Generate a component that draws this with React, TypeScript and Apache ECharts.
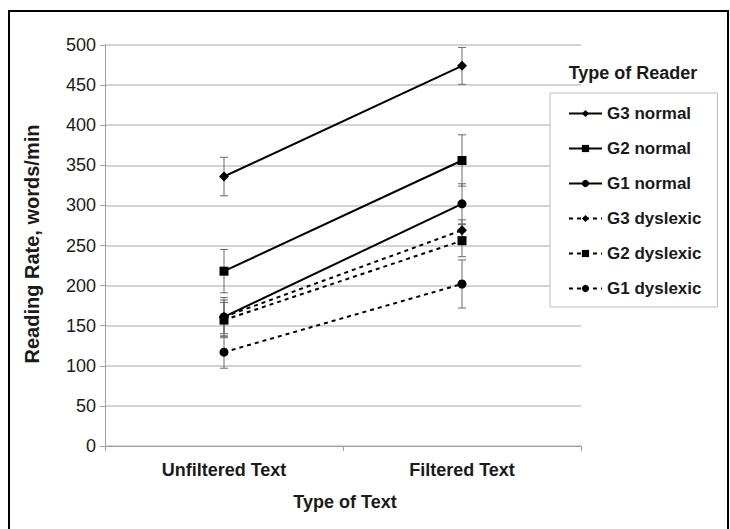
import React, { useEffect, useRef } from "react";
import * as echarts from "echarts";

const categories = ["Unfiltered Text", "Filtered Text"];
const seriesNames = ["G3 normal", "G2 normal", "G1 normal", "G3 dyslexic", "G2 dyslexic", "G1 dyslexic"];
const g3Normal = [336, 474];
const g2Normal = [218, 356];
const g1Normal = [161, 302];
const g3Dyslexic = [161, 269];
const g2Dyslexic = [157, 256];
const g1Dyslexic = [117, 202];
const g3NormalErr = [24, 23];
const g2NormalErr = [27, 32];
const g1NormalErr = [24, 25];
const g3DyslexicErr = [21, 13];
const g2DyslexicErr = [22, 20];
const g1DyslexicErr = [20, 30];
const yTicks = [0, 500, 50];

const FONT = "'Liberation Sans', Arial, sans-serif";
const TXT = "#1a1a1a";

export default function App() {
  const ref = useRef<HTMLDivElement>(null);
  useEffect(() => {
    if (!ref.current) return;
    const chart = echarts.init(ref.current, null, { renderer: "svg" });
    const values = [g3Normal, g2Normal, g1Normal, g3Dyslexic, g2Dyslexic, g1Dyslexic];
    const errs = [g3NormalErr, g2NormalErr, g1NormalErr, g3DyslexicErr, g2DyslexicErr, g1DyslexicErr];
    const symbols = ["diamond", "rect", "circle", "diamond", "rect", "circle"];
    const sizes = [10, 9, 9, 10, 9, 9];

    const errData: number[][] = [];
    values.forEach((vals, s) => {
      vals.forEach((v, i) => errData.push([i, v - errs[s][i], v + errs[s][i]]));
    });

    const errSeries = {
      type: "custom",
      name: "err",
      silent: true,
      z: 1,
      data: errData,
      encode: { x: 0, y: [1, 2] },
      renderItem: (params: any, api: any) => {
        const x = api.value(0);
        const lo = api.coord([x, api.value(1)]);
        const hi = api.coord([x, api.value(2)]);
        const w = 4;
        const st = { stroke: "#6a6a6a", lineWidth: 1 };
        return {
          type: "group",
          children: [
            { type: "line", shape: { x1: lo[0], y1: lo[1], x2: hi[0], y2: hi[1] }, style: st },
            { type: "line", shape: { x1: lo[0] - w, y1: lo[1], x2: lo[0] + w, y2: lo[1] }, style: st },
            { type: "line", shape: { x1: hi[0] - w, y1: hi[1], x2: hi[0] + w, y2: hi[1] }, style: st },
          ],
        };
      },
    };

    const lineSeries = values.map((vals, s) => ({
      type: "line",
      name: seriesNames[s],
      data: vals,
      z: 3,
      symbol: symbols[s],
      symbolSize: sizes[s],
      itemStyle: { color: "#000" },
      lineStyle: { color: "#000", width: 2, type: s < 3 ? "solid" : [4, 4] },
    }));

    chart.setOption({
      animation: false,
      backgroundColor: "#fff",
      grid: { left: 105, top: 45, right: 149, bottom: 83 },
      xAxis: {
        type: "category",
        data: categories,
        boundaryGap: true,
        axisLine: { lineStyle: { color: "#a0a0a0", width: 1 } },
        axisTick: { show: true, length: 5, lineStyle: { color: "#a0a0a0" } },
        axisLabel: { margin: 15, color: TXT, fontFamily: FONT, fontSize: 18, fontWeight: "bold" },
      },
      yAxis: {
        type: "value",
        min: yTicks[0],
        max: yTicks[1],
        interval: yTicks[2],
        axisLine: { show: true, lineStyle: { color: "#a0a0a0", width: 1 } },
        axisTick: { show: true, length: 5, lineStyle: { color: "#a0a0a0" } },
        axisLabel: { margin: 9, color: TXT, fontFamily: FONT, fontSize: 18 },
        splitLine: { lineStyle: { color: "#c4c4c4", width: 1.5 } },
      },
      legend: {
        orient: "vertical",
        left: 550,
        top: 93,
        data: seriesNames,
        itemWidth: 33,
        itemHeight: 9,
        itemGap: 18,
        padding: [12, 16, 10, 18],
        borderColor: "#bdbdbd",
        borderWidth: 1,
        backgroundColor: "#fff",
        textStyle: { color: TXT, fontFamily: FONT, fontSize: 17, fontWeight: "bold" },
      },
      graphic: [
        {
          type: "text",
          x: 633,
          y: 73,
          style: { text: "Type of Reader", fill: TXT, font: `bold 18px ${FONT}`, textAlign: "center", textVerticalAlign: "middle" },
        },
        {
          type: "text",
          x: 345,
          y: 502,
          style: { text: "Type of Text", fill: TXT, font: `bold 18px ${FONT}`, textAlign: "center", textVerticalAlign: "middle" },
        },
        {
          type: "text",
          x: 32,
          y: 244,
          rotation: Math.PI / 2,
          style: { text: "Reading Rate, words/min", fill: TXT, font: `bold 20px ${FONT}`, textAlign: "center", textVerticalAlign: "middle" },
        },
        {
          type: "rect",
          shape: { x: 9, y: 11, width: 719, height: 540 },
          style: { fill: "none", stroke: "#000", lineWidth: 2 },
          silent: true,
        },
      ],
      series: [errSeries, ...lineSeries],
    });
    return () => chart.dispose();
  }, []);
  return <div ref={ref} style={{ position: "absolute", left: 0, top: 0, width: 730, height: 529 }} />;
}
